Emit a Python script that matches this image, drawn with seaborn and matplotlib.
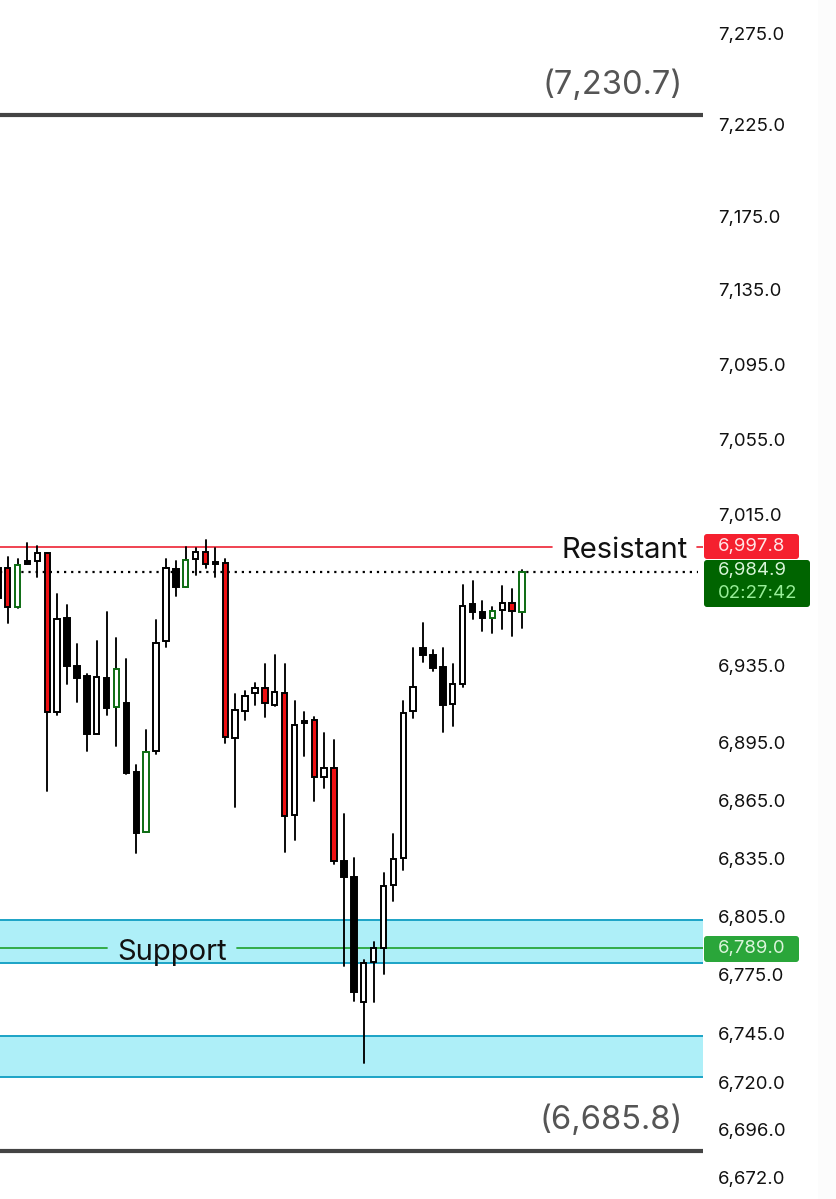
import matplotlib
matplotlib.use('Agg')
import matplotlib.pyplot as plt
from matplotlib.patches import FancyBboxPatch, Rectangle
from matplotlib.ticker import NullLocator
import pandas as pd
import seaborn as sns

# candle values, first candle is cut by the left edge
highs = [6996.0, 6992.6, 6991.2, 7000.0, 6998.3, 6994.7, 6972.7, 6967.1, 6946.3, 6930.7,
         6948.2, 6963.3, 6949.6, 6938.6, 6883.1, 6901.5, 6959.2, 6991.2, 6990.5, 6997.9,
         6997.0, 7001.4, 6997.0, 6991.2, 6920.2, 6921.8, 6926.3, 6936.0, 6940.5, 6936.0,
         6916.5, 6910.8, 6908.5, 6899.8, 6896.3, 6857.7, 6835.0, 6782.3, 6791.7, 6827.1,
         6847.3, 6916.8, 6944.5, 6957.8, 6943.5, 6944.5, 6936.1, 6977.6, 6979.9, 6969.0,
         6965.9, 6977.3, 6975.5, 6985.6]
tops = [6986.6, 6986.3, 6988.2, 6990.4, 6994.7, 6994.4, 6959.7, 6960.1, 6934.9, 6929.5,
        6929.2, 6928.8, 6933.4, 6915.8, 6879.5, 6890.0, 6947.3, 6986.5, 6985.9, 6991.0,
        6995.1, 6995.1, 6989.7, 6989.4, 6912.0, 6919.3, 6923.2, 6923.2, 6921.1, 6920.7,
        6904.3, 6906.4, 6906.9, 6881.7, 6881.7, 6833.5, 6825.3, 6780.9, 6788.4, 6820.7,
        6834.4, 6910.6, 6923.8, 6944.4, 6941.0, 6934.2, 6925.5, 6966.7, 6967.4, 6963.2,
        6963.9, 6968.1, 6968.1, 6984.2]
bottoms = [6970.8, 6965.9, 6966.2, 6988.7, 6990.5, 6911.1, 6911.1, 6934.9, 6928.9, 6899.5,
           6899.3, 6913.2, 6913.5, 6879.3, 6848.1, 6848.5, 6890.7, 6948.3, 6976.4, 6976.4,
           6991.5, 6988.6, 6988.9, 6898.0, 6897.2, 6911.3, 6920.7, 6915.8, 6914.6, 6856.9,
           6857.2, 6905.0, 6877.0, 6877.1, 6833.3, 6825.3, 6766.2, 6760.9, 6781.7, 6788.6,
           6821.1, 6834.9, 6911.2, 6940.7, 6933.9, 6914.8, 6915.1, 6925.5, 6963.1, 6960.2,
           6960.4, 6964.6, 6964.0, 6963.5]
lows = [6967.0, 6957.5, 6965.4, 6988.7, 6981.7, 6869.8, 6909.4, 6925.6, 6916.2, 6890.7,
        6899.3, 6909.4, 6893.2, 6878.5, 6837.8, 6848.5, 6889.0, 6945.2, 6971.9, 6976.4,
        6982.9, 6986.5, 6981.7, 6894.9, 6861.2, 6906.8, 6914.8, 6908.2, 6914.2, 6838.0,
        6844.2, 6888.0, 6864.6, 6871.4, 6832.0, 6779.5, 6761.7, 6730.0, 6760.9, 6775.3,
        6813.0, 6828.9, 6907.8, 6937.3, 6932.6, 6900.3, 6903.8, 6924.0, 6959.6, 6953.3,
        6952.2, 6954.2, 6950.8, 6955.0]
kinds = ['k', 'r', 'g', 'k', 'w', 'r', 'w', 'k', 'k', 'k',
         'w', 'k', 'g', 'k', 'k', 'g', 'w', 'w', 'k', 'g',
         'w', 'r', 'k', 'r', 'w', 'w', 'w', 'r', 'w', 'r',
         'w', 'k', 'r', 'w', 'r', 'k', 'k', 'w', 'w', 'w',
         'w', 'w', 'w', 'k', 'k', 'k', 'w', 'w', 'k', 'k',
         'g', 'w', 'r', 'g']
candle_ids = list(range(-1, 53))

tick_prices = [7275, 7225, 7175, 7135, 7095, 7055, 7015, 6935, 6895, 6865,
               6835, 6805, 6775, 6745, 6720, 6696, 6672]
tick_labels = [f'{t:,.1f}' for t in tick_prices]

# level lines as they sit on the axis
range_high = 7229.8
range_low = 6685.4
resistant = 6997.4
last_price = 6984.6
support = 6788.6
zones = [(6781.1, 6803.1), (6722.8, 6743.7)]

face = {'k': 'black', 'r': '#ee0f12', 'g': 'white', 'w': 'white'}
edge = {'k': 'black', 'r': 'black', 'g': '#0c6b12', 'w': 'black'}

W, H = 836, 1199
FONT = ['Inter', 'DejaVu Sans']
TAG_SIZE = 13.4

sns.set_theme(style='white')
plt.rcParams['font.family'] = FONT

fig = plt.figure(figsize=(W / 100, H / 100), dpi=100, facecolor='white')
ax = fig.add_axes([0, 0, 703 / W, 1])

# zones and levels
for lo, hi in zones:
    ax.axhspan(lo, hi, facecolor='#aeeff8', edgecolor='none', zorder=1)
    ax.axhline(lo, color='#1ba3c6', lw=1.4, zorder=2)
    ax.axhline(hi, color='#1ba3c6', lw=1.4, zorder=2)
ax.axhline(range_high, color='#444444', lw=3, zorder=2)
ax.axhline(range_low, color='#444444', lw=3, zorder=2)
ax.axhline(resistant, xmax=552 / 703, color='#ee2233', lw=1.2, zorder=2)
ax.axhline(resistant, xmin=697 / 703, color='#ee2233', lw=1.2, zorder=2)
ax.axhline(support, xmax=107 / 703, color='#2aa63a', lw=1.3, zorder=2)
ax.axhline(support, xmin=237 / 703, color='#2aa63a', lw=1.3, zorder=2)
ax.axhline(last_price, xmax=698 / 703, color='black', lw=1.6, ls=(0, (1, 2.2)), zorder=2)

# wicks
wicks = pd.DataFrame({'candle': candle_ids * 2, 'price': highs + lows})
sns.lineplot(data=wicks, x='candle', y='price', units='candle', estimator=None,
             color='black', lw=1.35, ax=ax, zorder=3, legend=False)

# bodies
for i, top, bot, kind in zip(candle_ids, tops, bottoms, kinds):
    ax.bar(i, top - bot, bottom=bot, width=0.55, facecolor=face[kind],
           edgecolor=edge[kind], linewidth=1.4, zorder=4)

ax.set_yscale('log')
ax.set_xlim(-0.779, 70.3)
ax.set_ylim(6661.0, 7293.2)
ax.yaxis.set_minor_locator(NullLocator())
ax.yaxis.tick_right()
ax.set_yticks(tick_prices, labels=tick_labels)
ax.tick_params(axis='y', length=0, pad=10.6, labelsize=TAG_SIZE, labelcolor='#111111')
ax.set_xticks([])
ax.set_xlabel('')
ax.set_ylabel('')
for s in ax.spines.values():
    s.set_visible(False)

# overlay in pixel coordinates for price tags and big labels
over = fig.add_axes([0, 0, 1, 1], zorder=5)
over.set_xlim(0, W)
over.set_ylim(H, 0)
over.axis('off')
over.add_patch(Rectangle((818, 0), 18, H, facecolor='#fcfcfc', edgecolor='none', zorder=0))


def tag(x0, y0, x1, y1, color):
    over.add_patch(FancyBboxPatch((x0 + 2, y0 + 2), x1 - x0 - 4, y1 - y0 - 4,
                                  boxstyle='round,pad=2,rounding_size=3',
                                  facecolor=color, edgecolor='none', zorder=2))


tag(704, 534, 799, 559, '#f5202f')
tag(704, 560, 810, 607, '#006400')
tag(704, 936, 799, 962, '#2aa63a')
over.text(718, 546, '6,997.8', color='#ffe6e6', fontsize=TAG_SIZE, ha='left', va='center', zorder=3)
over.text(718, 571, '6,984.9', color='#d8f5d8', fontsize=TAG_SIZE, ha='left', va='center', zorder=3)
over.text(718, 594, '02:27:42', color='#98ee98', fontsize=TAG_SIZE, ha='left', va='center', zorder=3)
over.text(718, 948, '6,789.0', color='#dcf5dc', fontsize=TAG_SIZE, ha='left', va='center', zorder=3)

over.text(683, 85, '(7,230.7)', color='#555555', fontsize=23.5, ha='right', va='center')
over.text(683, 1120, '(6,685.8)', color='#555555', fontsize=23.5, ha='right', va='center')
over.text(625, 551, 'Resistant', color='#111111', fontsize=21, ha='center', va='center')
over.text(172.5, 952, 'Support', color='#111111', fontsize=21, ha='center', va='center')

fig.savefig('out.png', dpi=100)
